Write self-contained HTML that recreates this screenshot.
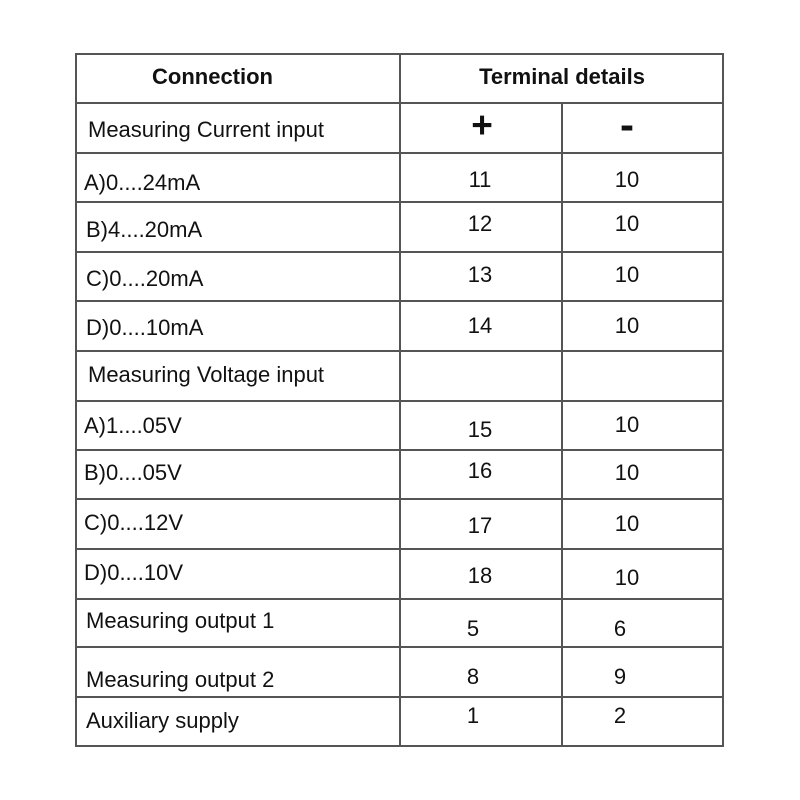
<!DOCTYPE html>
<html>
<head>
<meta charset="utf-8">
<style>
html,body{margin:0;padding:0;background:#fff;}
svg{display:block;}
text{font-family:"Liberation Sans",Arial,sans-serif;font-size:22px;fill:#111;}
.b{font-weight:bold;}
.c{text-anchor:middle;}
</style>
</head>
<body>
<svg width="800" height="800" viewBox="0 0 800 800" xmlns="http://www.w3.org/2000/svg">
<rect width="800" height="800" fill="#fff"/>
<g stroke="#555" stroke-width="2" fill="none">
<rect x="76" y="54" width="647" height="692"/>
<line x1="400" y1="54" x2="400" y2="746"/>
<line x1="562" y1="103" x2="562" y2="746"/>
<line x1="76" y1="103" x2="723" y2="103"/>
<line x1="76" y1="153" x2="723" y2="153"/>
<line x1="76" y1="202" x2="723" y2="202"/>
<line x1="76" y1="252" x2="723" y2="252"/>
<line x1="76" y1="301" x2="723" y2="301"/>
<line x1="76" y1="351" x2="723" y2="351"/>
<line x1="76" y1="401" x2="723" y2="401"/>
<line x1="76" y1="450" x2="723" y2="450"/>
<line x1="76" y1="499" x2="723" y2="499"/>
<line x1="76" y1="549" x2="723" y2="549"/>
<line x1="76" y1="599" x2="723" y2="599"/>
<line x1="76" y1="647" x2="723" y2="647"/>
<line x1="76" y1="697" x2="723" y2="697"/>
</g>
<text class="b" x="152" y="84">Connection</text>
<text class="b c" x="562" y="84">Terminal details</text>

<text x="88" y="137">Measuring Current input</text>
<text class="b c" x="482" y="137.5" style="font-size:37px">+</text>
<text class="b c" x="627" y="139" style="font-size:42px">-</text>

<text x="84" y="190">A)0....24mA</text>
<text class="c" x="480" y="187">11</text>
<text class="c" x="627" y="187">10</text>

<text x="86" y="237">B)4....20mA</text>
<text class="c" x="480" y="231">12</text>
<text class="c" x="627" y="231">10</text>

<text x="86" y="286">C)0....20mA</text>
<text class="c" x="480" y="282">13</text>
<text class="c" x="627" y="282">10</text>

<text x="86" y="335">D)0....10mA</text>
<text class="c" x="480" y="333">14</text>
<text class="c" x="627" y="333">10</text>

<text x="88" y="382">Measuring Voltage input</text>

<text x="84" y="433">A)1....05V</text>
<text class="c" x="480" y="437">15</text>
<text class="c" x="627" y="432">10</text>

<text x="84" y="480">B)0....05V</text>
<text class="c" x="480" y="478">16</text>
<text class="c" x="627" y="480">10</text>

<text x="84" y="530">C)0....12V</text>
<text class="c" x="480" y="533">17</text>
<text class="c" x="627" y="531">10</text>

<text x="84" y="580">D)0....10V</text>
<text class="c" x="480" y="583">18</text>
<text class="c" x="627" y="585">10</text>

<text x="86" y="628">Measuring output 1</text>
<text class="c" x="473" y="636">5</text>
<text class="c" x="620" y="636">6</text>

<text x="86" y="687">Measuring output 2</text>
<text class="c" x="473" y="684">8</text>
<text class="c" x="620" y="684">9</text>

<text x="86" y="728">Auxiliary supply</text>
<text class="c" x="473" y="723">1</text>
<text class="c" x="620" y="723">2</text>
</svg>
</body>
</html>
